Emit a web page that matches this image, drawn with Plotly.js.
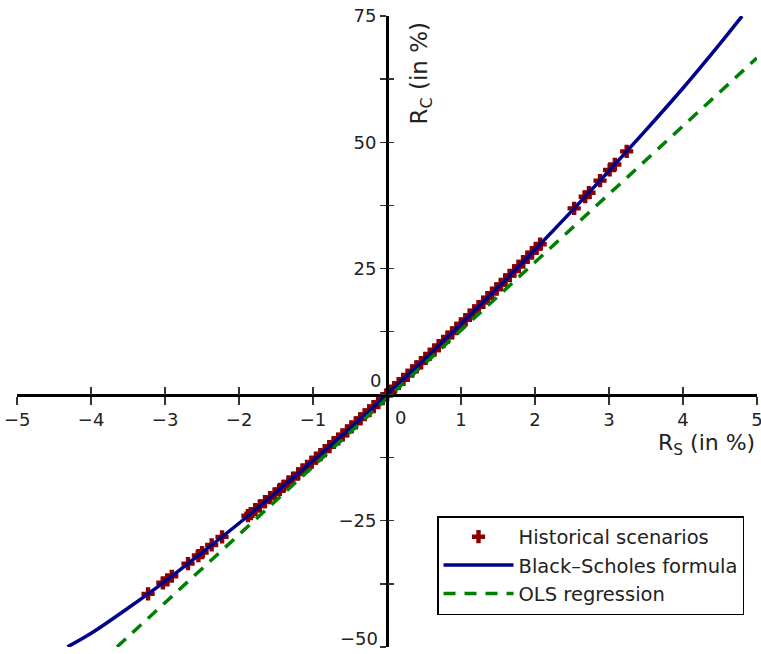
<!DOCTYPE html>
<html>
<head>
<meta charset="utf-8">
<script src="https://cdn.plot.ly/plotly-3.0.1.min.js"></script>
<style>html,body{margin:0;padding:0;background:#fff}#chart{width:761px;height:654px}</style>
</head>
<body>
<div id="chart"></div>
<script>
// Historical scenarios (stock return R_S, call return R_C)
const histX = [-3.23,-3.03,-2.97,-2.91,-2.69,-2.55,-2.50,-2.37,-2.23,-1.88,-1.84,-1.78,-1.72,-1.65,-1.58,-1.52,-1.45,-1.40,-1.33,-1.27,-1.20,-1.14,-1.08,-1.02,-0.96,-0.90,-0.84,-0.78,-0.72,-0.66,-0.60,-0.54,-0.48,-0.42,-0.36,-0.30,-0.24,-0.18,-0.12,-0.06,0.00,0.05,0.10,0.16,0.22,0.28,0.34,0.40,0.46,0.52,0.58,0.64,0.70,0.76,0.82,0.88,0.94,1.00,1.06,1.12,1.18,1.24,1.30,1.36,1.42,1.48,1.54,1.60,1.66,1.72,1.78,1.84,1.90,1.96,2.02,2.07,2.53,2.68,2.73,2.88,3.01,3.08,3.24];
const histY = [-39.5,-37.3,-36.7,-36.0,-33.5,-31.9,-31.3,-29.8,-28.2,-24.0,-23.6,-22.8,-22.1,-21.2,-20.4,-19.7,-18.8,-18.2,-17.3,-16.6,-15.7,-14.9,-14.2,-13.4,-12.6,-11.9,-11.1,-10.3,-9.5,-8.8,-8.0,-7.2,-6.4,-5.6,-4.8,-4.0,-3.2,-2.4,-1.6,-0.8,0.0,0.7,1.4,2.2,3.0,3.8,4.7,5.5,6.3,7.2,8.0,8.8,9.7,10.5,11.4,12.2,13.1,14.0,14.8,15.7,16.6,17.4,18.3,19.2,20.1,20.9,21.8,22.7,23.6,24.5,25.4,26.3,27.2,28.1,29.0,29.8,36.9,39.2,40.0,42.4,44.5,45.6,48.2];

// Black-Scholes formula curve
const bsX = [-4.32,-4.0,-3.5,-3.0,-2.5,-2.0,-1.5,-1.0,-0.5,0.0,0.5,1.0,1.5,2.0,2.5,3.0,3.5,4.0,4.5,4.8];
const bsY = [-50.0,-47.3,-42.3,-37.0,-31.3,-25.5,-19.4,-13.1,-6.7,0.0,6.9,14.0,21.2,28.7,36.4,44.3,52.4,60.7,69.5,75.0];

// OLS regression line
const olsX = [-3.65, 5.0];
const olsY = [-50.0, 66.7];

const xTicks = [-5,-4,-3,-2,-1,1,2,3,4,5];
const xTickText = ['−5','−4','−3','−2','−1','1','2','3','4','5'];
const yTicks = [-25,25,50,75];
const yTickText = ['−25','25','50','75'];
const yBottomLabel = '−50';

const seriesNames = ['Historical scenarios','Black\u2013Scholes formula','OLS regression'];

const FONT = 'DejaVu Sans, sans-serif';
const TXT = '#222';

const traces = [
  {x: histX, y: histY, mode: 'markers', type: 'scatter', name: seriesNames[0], legendgroup: 'a',
   marker: {symbol: 'cross', size: 11, color: '#8B0000', line: {width: 0}}},
  {x: bsX, y: bsY, mode: 'lines', type: 'scatter', name: seriesNames[1], legendgroup: 'b',
   line: {color: '#00008B', width: 3.5, shape: 'spline'}},
  {x: olsX, y: olsY, mode: 'lines', type: 'scatter', name: seriesNames[2], legendgroup: 'c',
   line: {color: '#008000', width: 3.5, dash: '12px,9px'}},
  {x: [], y: [], xaxis: 'x2', yaxis: 'y2', showlegend: false, hoverinfo: 'skip', type: 'scatter', mode: 'markers'}
];

const axCommon = {showgrid: false, zeroline: false, automargin: false, fixedrange: true};
const XR = [-5.002, 5.002];
const YR = [-50.02, 75.02];

const layout = {
  width: 761, height: 654,
  margin: {l: 17, r: 4, t: 16, b: 7, pad: 0},
  paper_bgcolor: '#fff', plot_bgcolor: '#fff',
  font: {family: FONT, size: 18, color: TXT},
  showlegend: true,
  xaxis: Object.assign({}, axCommon, {
    range: XR, anchor: 'free', position: 0.4,
    showline: true, linecolor: '#000', linewidth: 3,
    tickmode: 'array', tickvals: xTicks, ticktext: xTickText,
    ticks: 'outside', ticklen: 8, tickwidth: 1.5, tickcolor: '#333',
    ticklabeloverflow: 'allow',
    tickfont: {family: FONT, size: 18, color: TXT}
  }),
  xaxis2: Object.assign({}, axCommon, {
    range: XR, overlaying: 'x', anchor: 'free', position: 0.4,
    showline: false, showticklabels: false,
    tickmode: 'array', tickvals: xTicks,
    ticks: 'inside', ticklen: 8, tickwidth: 1.5, tickcolor: '#333'
  }),
  yaxis: Object.assign({}, axCommon, {
    range: YR, anchor: 'free', position: 0.5,
    showline: true, linecolor: '#000', linewidth: 3,
    tickmode: 'array', tickvals: yTicks, ticktext: yTickText,
    ticks: 'outside', ticklen: 6, tickwidth: 1.5, tickcolor: '#333',
    ticklabeloverflow: 'allow',
    minor: {dtick: 12.5, tick0: 0, ticks: 'outside', ticklen: 6, tickwidth: 1.5, tickcolor: '#333'},
    tickfont: {family: FONT, size: 18, color: TXT}
  }),
  yaxis2: Object.assign({}, axCommon, {
    range: YR, overlaying: 'y', anchor: 'free', position: 0.5,
    showline: false, showticklabels: false,
    tickmode: 'array', tickvals: yTicks,
    ticks: 'inside', ticklen: 6, tickwidth: 1.5, tickcolor: '#333',
    minor: {dtick: 12.5, tick0: 0, ticks: 'inside', ticklen: 6, tickwidth: 1.5, tickcolor: '#333'}
  }),
  legend: {
    x: 0.5676, y: 0.2076, xanchor: 'left', yanchor: 'top',
    bgcolor: '#fff', bordercolor: '#000', borderwidth: 1.5,
    font: {family: FONT, size: 19.5, color: TXT}, itemwidth: 70,
    traceorder: 'normal', tracegroupgap: 4
  },
  annotations: [
    {x: 0, y: 0, xref: 'x', yref: 'y', text: '0', showarrow: false,
     xanchor: 'right', yanchor: 'bottom', xshift: -4, yshift: 2, font: {size: 18, color: TXT}},
    {x: 0, y: 0, xref: 'x', yref: 'y', text: '0', showarrow: false,
     xanchor: 'left', yanchor: 'top', xshift: 6, yshift: -10, font: {size: 18, color: TXT}},
    {x: 0, y: -50, xref: 'x', yref: 'y', text: yBottomLabel, showarrow: false,
     xanchor: 'right', yanchor: 'bottom', xshift: -7, yshift: -4, font: {size: 18, color: TXT}},
    {x: 5, y: 0, xref: 'x', yref: 'y', text: 'R<sub>S</sub> (in %)', showarrow: false,
     xanchor: 'right', yanchor: 'middle', yshift: -50, font: {size: 22, color: TXT}},
    {x: 0, y: 75, xref: 'x', yref: 'y', text: 'R<sub>C</sub> (in %)', showarrow: false,
     textangle: -90, xanchor: 'center', yanchor: 'top', xshift: 34, yshift: -4, font: {size: 23, color: TXT}}
  ]
};

Plotly.newPlot('chart', traces, layout, {displayModeBar: false, staticPlot: true});
</script>
</body>
</html>
